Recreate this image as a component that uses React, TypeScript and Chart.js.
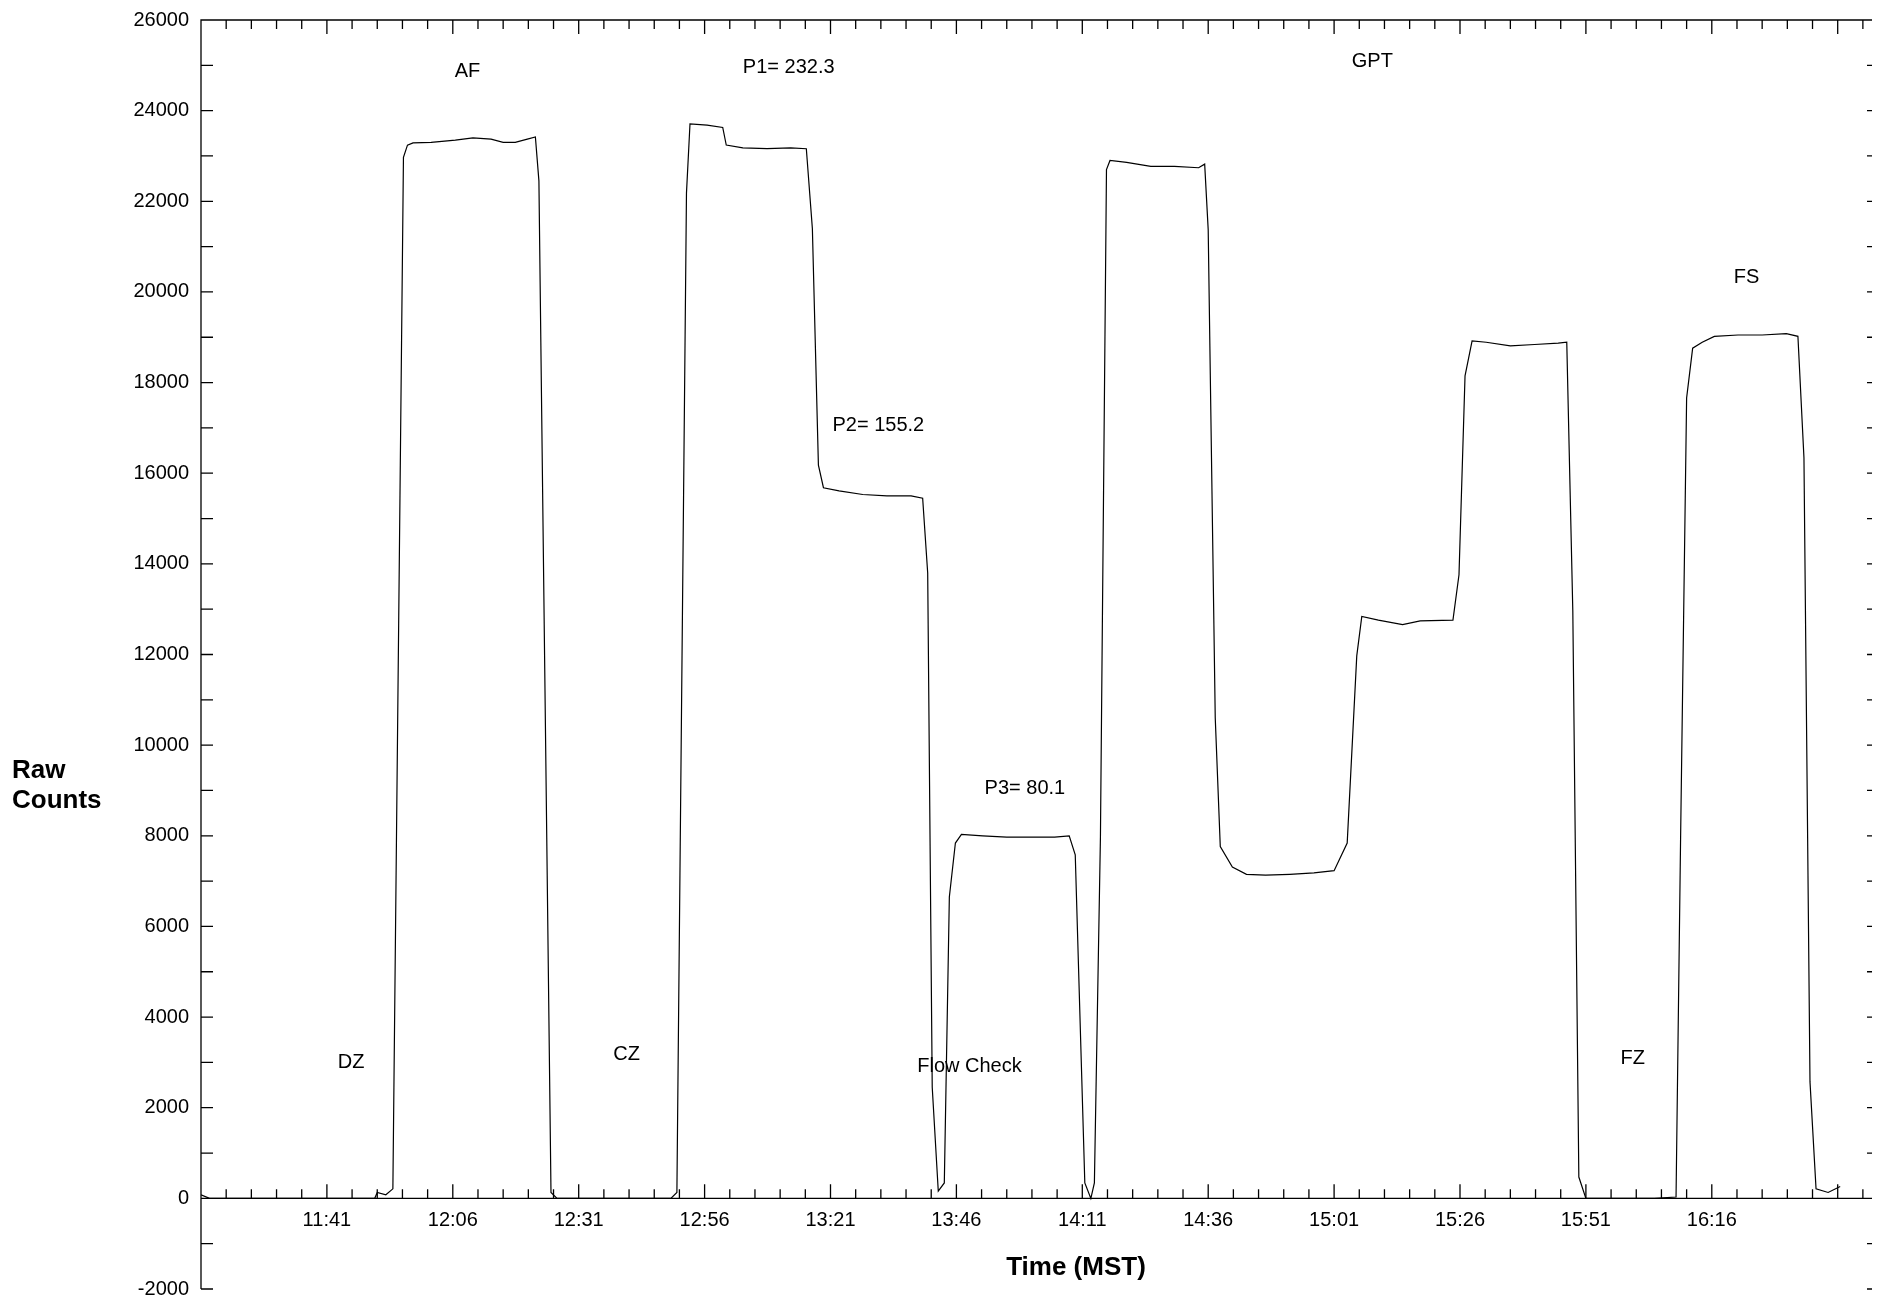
import { useEffect, useRef } from "react";
import { Chart, registerables } from "chart.js";
Chart.register(...registerables);

// minutes after 11:16 MST
const minutes = [
  0, 1.7, 10, 20, 30, 34.5, 35, 36.7, 38.1, 40.2, 41, 42.1, 45.7, 50.5, 54, 57.6, 60, 62.4, 64.8, 66.4, 67.1, 69.5, 70.7, 93.3, 94.5, 96.4,
  97.1, 100.5, 103.6, 104.3, 107.6, 112.4, 117.1, 120.2, 121.4, 122.6, 123.6, 126.7, 131.4, 136.2, 141, 143.3, 144.3, 145.2, 146.4,
  147.6, 148.6, 149.8, 151, 155.2, 160, 164.8, 169.5, 172.4, 173.6, 175.5, 176.7, 177.4, 178.6, 179.8, 180.5, 183.8, 188.6, 193.3,
  198.1, 199.3, 200, 201.4, 202.4, 204.8, 207.6, 211.4, 216.2, 221, 225, 227.6, 229.5, 230.5, 233.8, 238.6, 242.1, 248.6, 249.8, 251,
  252.4, 255.2, 260, 264.8, 269.5, 271.2, 272.4, 273.6, 275, 288.6, 292.9, 293.8, 295, 296.2, 298.1, 300.5, 305.2, 310, 314.8, 317.1,
  318.3, 319.5, 320.7, 323.1, 325.5,
];
const counts = [
  80, 0, 0, 0, 0, 0, 130, 80, 210, 22970, 23240, 23290, 23300, 23350, 23400, 23370, 23300, 23300, 23370, 23420, 22450, 130, 0, 0, 130,
  22180, 23710, 23680, 23630, 23240, 23180, 23160, 23180, 23160, 21400, 16180, 15680, 15610, 15530, 15500, 15500, 15450, 13800, 2450,
  160, 340, 6650, 7840, 8030, 8000, 7970, 7970, 7970, 8000, 7580, 340, 0, 340, 7970, 22700, 22900, 22860, 22770, 22770, 22740, 22820,
  21370, 10600, 7760, 7310, 7150, 7130, 7150, 7180, 7230, 7840, 11970, 12840, 12760, 12660, 12740, 12760, 13760, 18150, 18920, 18890,
  18810, 18840, 18870, 18890, 12970, 470, 0, 0, 30, 7920, 17660, 18760, 18890, 19020, 19050, 19050, 19080, 19020, 16340, 2570, 210,
  130, 260,
];
const xTickLabels = ["11:41", "12:06", "12:31", "12:56", "13:21", "13:46", "14:11", "14:36", "15:01", "15:26", "15:51", "16:16"];
const xTickMinutes = [25, 50, 75, 100, 125, 150, 175, 200, 225, 250, 275, 300];
const yTickValues = [-2000, 0, 2000, 4000, 6000, 8000, 10000, 12000, 14000, 16000, 18000, 20000, 22000, 24000, 26000];
const notes = ["AF", "P1= 232.3", "GPT", "FS", "P2= 155.2", "P3= 80.1", "DZ", "CZ", "Flow Check", "FZ"];
const noteX = [52.9, 116.7, 232.6, 306.9, 134.5, 163.6, 29.8, 84.5, 152.6, 284.3];
const noteY = [24870, 24950, 25080, 20320, 17050, 9050, 3000, 3180, 2920, 3080];

const FONT = "Arial, 'Liberation Sans', sans-serif";

const frame = {
  id: "frame",
  afterDraw(chart: any) {
    const { ctx, chartArea: a } = chart;
    const x = chart.scales.x;
    const y = chart.scales.y;
    const y0 = y.getPixelForValue(0);
    const right = chart.width - 1;
    ctx.save();
    ctx.strokeStyle = "#000";
    ctx.lineWidth = 1.3;
    ctx.beginPath();
    ctx.moveTo(a.left, a.bottom);
    ctx.lineTo(a.left, a.top);
    ctx.lineTo(right, a.top);
    ctx.lineTo(right, a.bottom);
    ctx.moveTo(a.left, y0);
    ctx.lineTo(right, y0);
    for (let m = 5; m < 335; m += 5) {
      const px = x.getPixelForValue(m);
      const len = (m - 25) % 25 === 0 ? 14 : 9;
      ctx.moveTo(px, y0);
      ctx.lineTo(px, y0 - len);
      ctx.moveTo(px, a.top);
      ctx.lineTo(px, a.top + len);
    }
    for (let v = -2000; v <= 26000; v += 1000) {
      const py = y.getPixelForValue(v);
      ctx.moveTo(a.left, py);
      ctx.lineTo(a.left + 12, py);
      ctx.moveTo(right, py);
      ctx.lineTo(right - 12, py);
    }
    ctx.stroke();
    ctx.fillStyle = "#000";
    ctx.font = `20px ${FONT}`;
    ctx.textBaseline = "middle";
    ctx.textAlign = "right";
    yTickValues.forEach((v) => ctx.fillText(String(v), a.left - 12, y.getPixelForValue(v)));
    ctx.textAlign = "center";
    xTickLabels.forEach((t, i) => ctx.fillText(t, x.getPixelForValue(xTickMinutes[i]), y0 + 22));
    notes.forEach((t, i) => ctx.fillText(t, x.getPixelForValue(noteX[i]), y.getPixelForValue(noteY[i])));
    ctx.font = `bold 26px ${FONT}`;
    ctx.fillText("Time (MST)", 1076, 1268);
    ctx.textAlign = "left";
    ctx.fillText("Raw", 12, 771);
    ctx.fillText("Counts", 12, 801);
    ctx.restore();
  },
};

export default function App() {
  const canvasRef = useRef<HTMLCanvasElement>(null);
  const chartRef = useRef<Chart | null>(null);

  useEffect(() => {
    if (!canvasRef.current) return;
    chartRef.current?.destroy();
    chartRef.current = new Chart(canvasRef.current, {
      type: "line",
      data: {
        datasets: [
          {
            data: minutes.map((m, i) => ({ x: m, y: counts[i] })),
            borderColor: "#000",
            borderWidth: 1.2,
            pointRadius: 0,
            tension: 0,
          },
        ],
      },
      options: {
        animation: false,
        responsive: false,
        layout: { padding: { top: 20, bottom: 17, right: 0, left: 201 } },
        plugins: { legend: { display: false }, tooltip: { enabled: false } },
        scales: {
          x: { type: "linear", min: 0, max: 333.4, display: false },
          y: { min: -2000, max: 26000, display: false },
        },
      },
      plugins: [frame],
    });
    return () => {
      chartRef.current?.destroy();
    };
  }, []);

  return (
    <div style={{ margin: -8, background: "#fff" }}>
      <canvas ref={canvasRef} width={1880} height={1306} style={{ display: "block" }} />
    </div>
  );
}
